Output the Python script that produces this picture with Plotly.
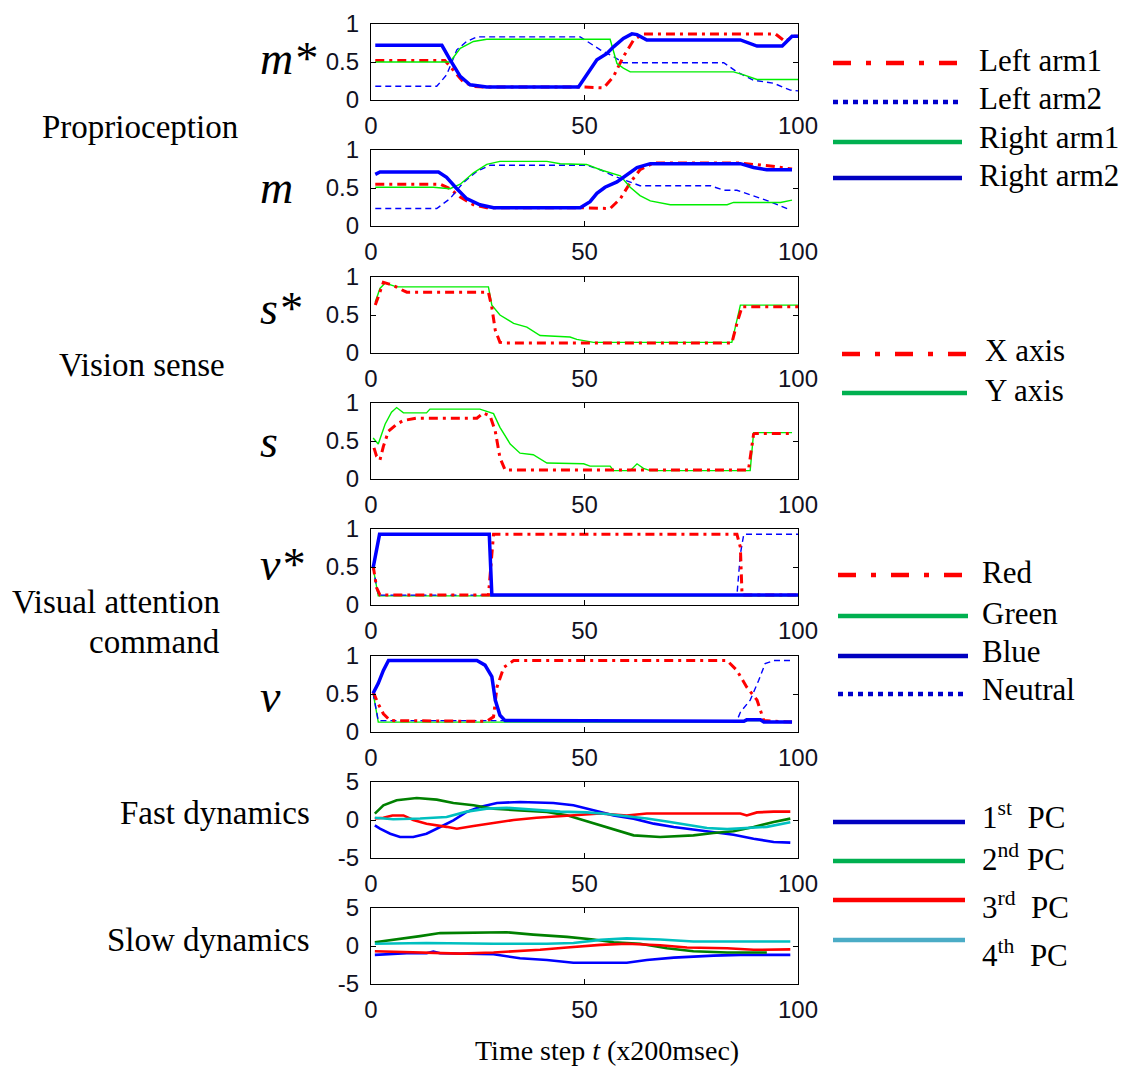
import plotly.graph_objects as go

W, H = 1128, 1068

# ---------------- data (time step t, value) ----------------
# Panel 1: m* (target proprioception)
ms_la1_t = [1, 17.3, 19.3, 21.6, 24, 27.1, 49.8, 54.5, 56.8, 59.1, 61.5, 63.8, 94.7, 97, 99, 100]
ms_la1_v = [0.52, 0.52, 0.39, 0.24, 0.18, 0.17, 0.17, 0.16, 0.31, 0.57, 0.79, 0.87, 0.87, 0.77, 0.84, 0.84]
ms_la2_t = [1, 15.4, 17.7, 20.1, 22.4, 24.8, 49, 51.3, 53.7, 56.8, 59.1, 82.6, 85.7, 89.6, 94.3, 98.2, 100]
ms_la2_v = [0.18, 0.18, 0.33, 0.66, 0.77, 0.83, 0.83, 0.75, 0.66, 0.57, 0.49, 0.49, 0.37, 0.26, 0.22, 0.13, 0.12]
ms_ra1_t = [1, 18.5, 20.9, 24, 27.1, 56, 57.6, 59.1, 60.7, 84.9, 87.3, 90.4, 100]
ms_ra1_v = [0.5, 0.5, 0.68, 0.77, 0.8, 0.8, 0.48, 0.42, 0.37, 0.37, 0.33, 0.27, 0.27]
ms_ra2_t = [1, 16.6, 18.5, 20.9, 23.2, 27.1, 48.6, 50.5, 52.9, 55.2, 56.8, 59.1, 61.1, 62.3, 64.6, 86.5, 90.4, 96.3, 98.6, 100]
ms_ra2_v = [0.72, 0.72, 0.53, 0.31, 0.2, 0.17, 0.17, 0.33, 0.53, 0.61, 0.7, 0.81, 0.87, 0.86, 0.79, 0.79, 0.71, 0.71, 0.84, 0.84]

# Panel 2: m (generated proprioception)
m_la1_t = [1, 16.2, 18.5, 20.9, 24, 27.1, 49, 56, 58.4, 60.7, 63, 66.2, 85.7, 89.6, 93.5, 98.6]
m_la1_v = [0.55, 0.55, 0.49, 0.38, 0.28, 0.24, 0.24, 0.23, 0.36, 0.57, 0.74, 0.83, 0.83, 0.81, 0.79, 0.75]
m_la2_t = [1, 15.4, 18.5, 21.6, 24.8, 27.9, 50.5, 53.7, 56.8, 59.9, 63, 79.5, 82.6, 85.7, 89.6, 93.5, 98.2]
m_la2_v = [0.23, 0.23, 0.36, 0.57, 0.72, 0.8, 0.8, 0.74, 0.66, 0.6, 0.53, 0.53, 0.47, 0.47, 0.4, 0.32, 0.21]
m_ra1_t = [1, 14.6, 18.5, 20.9, 24, 27.1, 30.2, 41.2, 44.3, 50.5, 53.7, 58.4, 60.7, 63, 65.4, 70.1, 83.4, 84.9, 95.9, 98.6]
m_ra1_v = [0.51, 0.51, 0.49, 0.55, 0.7, 0.81, 0.85, 0.85, 0.82, 0.81, 0.74, 0.66, 0.51, 0.4, 0.33, 0.28, 0.28, 0.31, 0.31, 0.34]
m_ra2_t = [1, 2.1, 15.8, 17.7, 20.1, 22.4, 25.5, 28.7, 49, 51.3, 52.9, 54.8, 57.6, 59.9, 62.3, 65.4, 86.5, 89.6, 92.7, 98.6]
m_ra2_v = [0.68, 0.71, 0.71, 0.64, 0.49, 0.36, 0.28, 0.24, 0.24, 0.32, 0.43, 0.51, 0.58, 0.68, 0.77, 0.82, 0.82, 0.77, 0.74, 0.74]

# Panel 3: s* (target vision)
ss_x_t = [1, 1.7, 2.9, 4.1, 5.2, 7.6, 8.4, 27.5, 28.3, 29.1, 30.2, 31.5, 84.5, 85.7, 86.9, 100]
ss_x_v = [0.63, 0.74, 0.93, 0.91, 0.89, 0.82, 0.8, 0.8, 0.6, 0.3, 0.14, 0.13, 0.13, 0.39, 0.61, 0.61]
ss_y_t = [1, 2.1, 3.3, 4.5, 6, 27.5, 28.3, 30.2, 33.4, 36.5, 39.6, 46.6, 48.2, 52.1, 84.5, 86.5, 100]
ss_y_v = [0.67, 0.85, 0.92, 0.9, 0.87, 0.87, 0.63, 0.5, 0.39, 0.34, 0.23, 0.21, 0.18, 0.14, 0.14, 0.63, 0.63]

# Panel 4: s (generated vision)
s_x_t = [0.7, 1.3, 2.1, 2.9, 4.1, 6, 7.6, 10.7, 24.8, 26.3, 27.9, 29.1, 30.2, 31.4, 88.4, 89.6, 90, 98.6]
s_x_v = [0.41, 0.3, 0.25, 0.43, 0.63, 0.72, 0.77, 0.8, 0.8, 0.87, 0.83, 0.63, 0.28, 0.12, 0.12, 0.59, 0.6, 0.6]
s_y_t = [0.5, 1.7, 3.3, 4.8, 6, 7.6, 13, 13.8, 25.5, 28.7, 30.2, 32.6, 34.9, 38, 41.2, 49.8, 51.3, 56, 56.8, 60.7, 62.3, 63.8, 65.4, 88.8, 89.6, 98.6]
s_y_v = [0.54, 0.46, 0.72, 0.88, 0.94, 0.87, 0.87, 0.92, 0.92, 0.86, 0.68, 0.46, 0.34, 0.32, 0.21, 0.2, 0.17, 0.17, 0.11, 0.11, 0.2, 0.14, 0.11, 0.11, 0.61, 0.61]

# Panel 5: v* (target attention)
vs_red_t = [0.5, 1.3, 2.1, 27.5, 28.7, 85.7, 86.5, 86.9, 100]
vs_red_v = [0.52, 0.23, 0.13, 0.13, 0.93, 0.93, 0.76, 0.13, 0.13]
vs_green_t = [0.5, 1.7, 100]
vs_green_v = [0.49, 0.12, 0.12]
vs_blue_t = [0.5, 1.3, 2, 27.7, 28.3, 100]
vs_blue_v = [0.49, 0.76, 0.93, 0.93, 0.13, 0.13]
vs_neu_t = [0.5, 1.7, 85.7, 86.5, 87.3, 100]
vs_neu_v = [0.49, 0.13, 0.13, 0.67, 0.93, 0.93]

# Panel 6: v (generated attention)
v_red_t = [0.5, 1.7, 2.9, 4.5, 27.1, 28.7, 29.5, 31.1, 33.4, 83.4, 85.7, 88, 90.4, 91.6, 92, 98.6]
v_red_v = [0.53, 0.37, 0.24, 0.15, 0.14, 0.2, 0.59, 0.85, 0.94, 0.94, 0.81, 0.59, 0.42, 0.22, 0.15, 0.13]
v_green_t = [0.5, 1.7, 87.3, 88, 91.2, 92, 98.6]
v_green_v = [0.51, 0.13, 0.13, 0.15, 0.15, 0.13, 0.13]
v_blue_t = [0.5, 1.7, 2.9, 4.1, 24.8, 26.7, 28.3, 29.1, 30.2, 31.4, 87.3, 88, 91.2, 92, 98.6]
v_blue_v = [0.51, 0.64, 0.81, 0.94, 0.94, 0.88, 0.73, 0.42, 0.22, 0.15, 0.14, 0.16, 0.16, 0.13, 0.13]
v_neu_t = [0.5, 1.7, 85.7, 86.5, 88.8, 90.8, 92.3, 94.3, 98.6]
v_neu_v = [0.51, 0.15, 0.15, 0.26, 0.42, 0.68, 0.9, 0.94, 0.94]

# Panel 7: fast dynamics (PCs)
f_pc1_t = [0.9, 2.1, 4.5, 6.8, 9.9, 13, 16.2, 19.3, 22.4, 25.5, 29.5, 34.9, 42.7, 47.4, 52.1, 56.8, 61.5, 66.2, 70.9, 75.5, 80.2, 84.9, 89.6, 94.3, 98.2]
f_pc1_v = [-0.7, -1.14, -1.8, -2.24, -2.24, -1.8, -0.92, -0.04, 1.05, 1.71, 2.24, 2.37, 2.24, 1.93, 1.27, 0.61, 0.18, -0.48, -0.92, -1.23, -1.58, -1.93, -2.46, -2.89, -2.98]
f_pc2_t = [0.9, 2.9, 6, 10.7, 15.4, 19.3, 24, 28.7, 34.9, 41.2, 45.9, 49, 52.1, 55.2, 58.4, 61.5, 67.7, 75.5, 80.2, 84.9, 89.6, 94.3, 98.2]
f_pc2_v = [0.83, 1.93, 2.59, 2.89, 2.68, 2.24, 1.93, 1.49, 1.27, 1.05, 0.61, 0.09, -0.48, -1.05, -1.58, -2.02, -2.24, -2.02, -1.71, -1.49, -0.92, -0.26, 0.18]
f_pc3_t = [0.9, 2.9, 5, 7.6, 9.9, 13, 17.7, 20.1, 24, 28.7, 33.4, 38.8, 44.3, 49, 53.7, 59.9, 64.6, 86.5, 88, 90.4, 94.3, 98.2]
f_pc3_v = [0.2, 0.3, 0.6, 0.6, 0, -0.5, -0.9, -1.15, -0.8, -0.35, 0, 0.3, 0.5, 0.75, 0.85, 0.6, 0.85, 0.85, 0.6, 1.0, 1.1, 1.1]
f_pc4_t = [0.9, 5.2, 11.5, 17.7, 22.4, 27.1, 31.8, 38, 44.3, 50.5, 55.2, 59.9, 64.6, 69.3, 74, 78.7, 83.4, 88, 92.7, 98.2]
f_pc4_v = [0.3, 0.1, 0.2, 0.4, 1.1, 1.5, 1.6, 1.4, 1.1, 1.0, 0.8, 0.5, 0.2, -0.2, -0.6, -1.05, -1.2, -1.1, -0.9, -0.3]

# Panel 8: slow dynamics (PCs)
sl_pc1_t = [0.9, 8.4, 13, 14.6, 16.2, 28.7, 34.9, 41.2, 47.4, 59.9, 64.6, 70.9, 80.2, 86.5, 98.2]
sl_pc1_v = [-1.17, -0.95, -0.95, -0.72, -0.95, -1.08, -1.62, -1.85, -2.2, -2.2, -1.85, -1.53, -1.26, -1.17, -1.17]
sl_pc2_t = [0.9, 5.2, 11.5, 16.2, 24.8, 31.8, 38, 45.9, 52.1, 56.8, 63, 69.3, 75.5, 83.4, 92.7]
sl_pc2_v = [0.5, 0.8, 1.3, 1.7, 1.8, 1.8, 1.5, 1.2, 0.85, 0.5, 0.3, -0.3, -0.7, -0.85, -0.85]
sl_pc3_t = [0.9, 9.1, 20.9, 28.7, 33.4, 39.6, 45.9, 53.7, 59.9, 67.7, 74, 83.4, 89.6, 98.2]
sl_pc3_v = [-0.7, -0.8, -1.0, -0.85, -0.7, -0.5, -0.2, 0.15, 0.3, 0.1, -0.2, -0.3, -0.5, -0.45]
sl_pc4_t = [0.9, 13, 28.7, 41.2, 47.4, 53.7, 59.9, 67.7, 75.5, 83.4, 98.2]
sl_pc4_v = [0.3, 0.4, 0.3, 0.3, 0.4, 0.8, 1.0, 0.85, 0.6, 0.6, 0.6]

x_ticks = [0, 50, 100]
unit_ticks = [0, 0.5, 1]
unit_tick_text = ["0", "0.5", "1"]
pc_ticks = [-5, 0, 5]
pc_tick_text = ["-5", "0", "5"]

row_labels = ["<i>m*</i>", "<i>m</i>", "<i>s*</i>", "<i>s</i>", "<i>v*</i>", "<i>v</i>"]
group_labels = ["Proprioception", "Vision sense", "Visual attention", "command", "Fast dynamics", "Slow dynamics"]
legend_arm = ["Left arm1", "Left arm2", "Right arm1", "Right arm2"]
legend_axis = ["X axis", "Y axis"]
legend_col = ["Red", "Green", "Blue", "Neutral"]
legend_pc = ["1<sup>st</sup>\u00a0 PC", "2<sup>nd</sup>\u00a0PC", "3<sup>rd</sup>\u00a0 PC", "4<sup>th</sup>\u00a0 PC"]
x_title = "Time step <i>t</i> (x200msec)"

# ---------------- styles ----------------
RED = dict(color="#FF0000", width=3, dash="9px,5px,3px,5px")
BDASH = dict(color="#0000FF", width=1.4, dash="6px,4px")
GRN = dict(color="#00EE00", width=1.4)
BLU = dict(color="#0000FF", width=3.5)
PC1 = dict(color="#0000FF", width=2.6)
PC2 = dict(color="#008000", width=2.6)
PC3 = dict(color="#FF0000", width=2.6)
PC4 = dict(color="#00BFBF", width=2.6)

panels = [
    [(ms_la1_t, ms_la1_v, RED), (ms_la2_t, ms_la2_v, BDASH), (ms_ra1_t, ms_ra1_v, GRN), (ms_ra2_t, ms_ra2_v, BLU)],
    [(m_la1_t, m_la1_v, RED), (m_la2_t, m_la2_v, BDASH), (m_ra1_t, m_ra1_v, GRN), (m_ra2_t, m_ra2_v, BLU)],
    [(ss_y_t, ss_y_v, GRN), (ss_x_t, ss_x_v, RED)],
    [(s_y_t, s_y_v, GRN), (s_x_t, s_x_v, RED)],
    [(vs_green_t, vs_green_v, GRN), (vs_neu_t, vs_neu_v, BDASH), (vs_red_t, vs_red_v, RED), (vs_blue_t, vs_blue_v, BLU)],
    [(v_green_t, v_green_v, GRN), (v_neu_t, v_neu_v, BDASH), (v_red_t, v_red_v, RED), (v_blue_t, v_blue_v, BLU)],
    [(f_pc1_t, f_pc1_v, PC1), (f_pc2_t, f_pc2_v, PC2), (f_pc3_t, f_pc3_v, PC3), (f_pc4_t, f_pc4_v, PC4)],
    [(sl_pc1_t, sl_pc1_v, PC1), (sl_pc2_t, sl_pc2_v, PC2), (sl_pc3_t, sl_pc3_v, PC3), (sl_pc4_t, sl_pc4_v, PC4)],
]

# ---------------- layout geometry (pixels) ----------------
X0, X1 = 371, 798
tops = [24, 150, 277, 403, 529, 656, 782, 908]
PH = 76


def px(x):
    return x / W


def py(y):
    return 1 - y / H


fig = go.Figure()
layout = dict(width=W, height=H, margin=dict(l=0, r=0, t=0, b=0, autoexpand=False),
              paper_bgcolor="white", plot_bgcolor="white", showlegend=False)

tickfont = dict(family="Liberation Sans, Arial", size=24, color="#111122")
for i, traces in enumerate(panels):
    k = i + 1
    xa = "x" if k == 1 else f"x{k}"
    ya = "y" if k == 1 else f"y{k}"
    for t, v, st in traces:
        fig.add_trace(go.Scatter(x=t, y=v, mode="lines", line=st, xaxis=xa, yaxis=ya,
                                 hoverinfo="skip"))
    is_pc = i >= 6
    xkey = "xaxis" if k == 1 else f"xaxis{k}"
    ykey = "yaxis" if k == 1 else f"yaxis{k}"
    layout[xkey] = dict(domain=[px(X0), px(X1)], anchor=ya, range=[0, 100],
                        tickvals=x_ticks, ticks="inside", ticklen=5, tickwidth=1.3,
                        tickcolor="black", showline=True, linecolor="black", linewidth=1.3,
                        mirror="ticks", showgrid=False, zeroline=False, tickfont=tickfont,
                        ticklabelstandoff=4, automargin=False)
    layout[ykey] = dict(domain=[py(tops[i] + PH), py(tops[i])], anchor=xa,
                        range=[-5, 5] if is_pc else [0, 1],
                        tickvals=pc_ticks if is_pc else unit_ticks,
                        ticktext=pc_tick_text if is_pc else unit_tick_text,
                        ticks="inside", ticklen=5, tickwidth=1.3, tickcolor="black",
                        showline=True, linecolor="black", linewidth=1.3, mirror="ticks",
                        showgrid=False, zeroline=False, tickfont=tickfont,
                        ticklabelstandoff=6, automargin=False)

annotations = []
shapes = []
serif = "Liberation Serif, Times New Roman"


def text(s, x, y, size=30, xanchor="left", yanchor="middle"):
    annotations.append(dict(text=s, x=px(x), y=py(y), xref="paper", yref="paper",
                            xanchor=xanchor, yanchor=yanchor, showarrow=False,
                            font=dict(family=serif, size=size, color="black")))


# row symbols
sym_y = [58, 188, 308, 441, 564, 696]
for lab, y in zip(row_labels, sym_y):
    text(lab, 258, y, size=46)

# group labels
text(group_labels[0], 40, 127, size=33)
text(group_labels[1], 57, 365, size=33)
text(group_labels[2], 222, 602, size=33, xanchor="right")
text(group_labels[3], 222, 642, size=33, xanchor="right")
text(group_labels[4], 312, 813, size=33, xanchor="right")
text(group_labels[5], 312, 940, size=33, xanchor="right")

# x title
text(x_title, 607, 1050, size=28, xanchor="center")


def leg_line(x0, x1, y, color, width=4.5, dash="solid"):
    shapes.append(dict(type="line", xref="paper", yref="paper", x0=px(x0), x1=px(x1),
                       y0=py(y), y1=py(y), line=dict(color=color, width=width, dash=dash)))


L_RED = dict(color="#FF0000", dash="18px,15px,5px,15px")
L_DOT = dict(color="#0000CC", dash="5px,5px")
L_GRN = dict(color="#00B050", dash="solid")
L_BLU = dict(color="#0000C0", dash="solid")
L_CYN = dict(color="#4BACC6", dash="solid")
L_RSOL = dict(color="#FF0000", dash="solid")

# legend group 1 (arms)
for lab, ly, ty, st in zip(legend_arm, [63, 102, 142, 178], [60, 98, 138, 176],
                           [L_RED, L_DOT, L_GRN, L_BLU]):
    leg_line(833, 962, ly, st["color"], dash=st["dash"])
    text(lab, 977, ty, size=31)

# legend group 2 (axes)
for lab, ly, ty, st in zip(legend_axis, [354, 393], [351, 390], [L_RED, L_GRN]):
    leg_line(842, 967, ly, st["color"], dash=st["dash"])
    text(lab, 983, ty, size=31)

# legend group 3 (colours)
for lab, ly, ty, st in zip(legend_col, [575, 616, 656, 694], [572, 613, 651, 689],
                           [L_RED, L_GRN, L_BLU, L_DOT]):
    leg_line(838, 968, ly, st["color"], dash=st["dash"])
    text(lab, 980, ty, size=31)

# legend group 4 (PCs)
for lab, ly, ty, st in zip(legend_pc, [822, 861, 900, 940], [815, 857, 905, 953],
                           [L_BLU, L_GRN, L_RSOL, L_CYN]):
    leg_line(833, 965, ly, st["color"], dash=st["dash"])
    text(lab, 980, ty, size=31)

layout["annotations"] = annotations
layout["shapes"] = shapes
fig.update_layout(**layout)
fig.write_html("out.html", config={"displayModeBar": False},
               post_script="document.body.style.margin='0px';document.body.style.padding='0px';")
